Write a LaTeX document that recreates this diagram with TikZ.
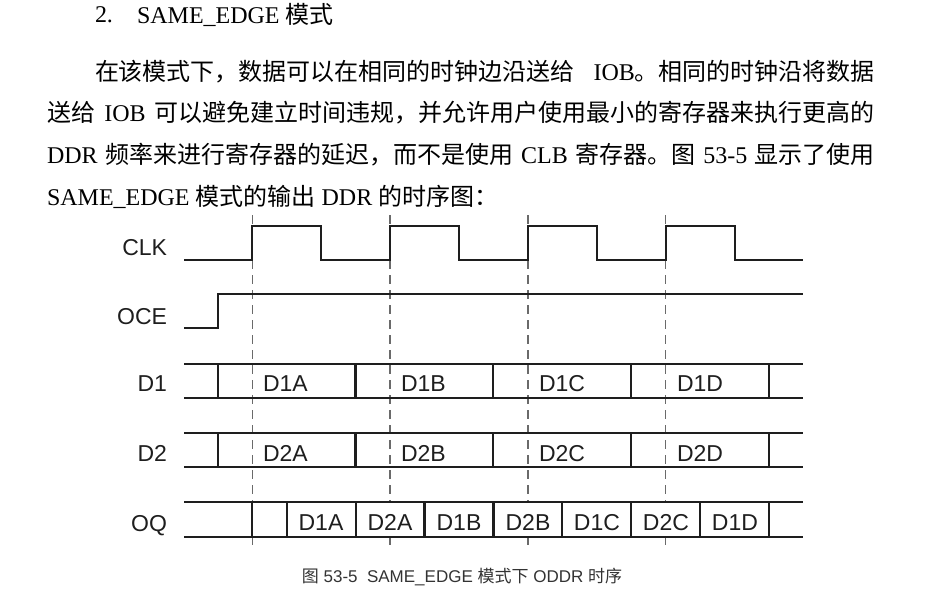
\documentclass[tikz,border=0pt]{standalone}
\usepackage{fontspec}
\setmainfont{Liberation Serif}
\newfontfamily\cjk{Noto Sans CJK SC}
\newfontfamily\arial{Liberation Sans}
\XeTeXlinebreaklocale "zh"
\XeTeXlinebreakskip=0pt plus 1pt
\usetikzlibrary{positioning}
\definecolor{wavecol}{HTML}{1e1e1e}
\definecolor{guidecol}{HTML}{6a6a6a}
\definecolor{captext}{HTML}{333333}

\begin{document}
\begin{tikzpicture}[x=0.5pt, y=-0.5pt, every node/.style={inner sep=0pt, outer sep=0pt},
  para/.style={font=\fontsize{12}{14}\selectfont, anchor=west},
  sig/.style={font=\arial\fontsize{11.5}{13}\selectfont, anchor=base east, text=wavecol},
  cell/.style={font=\arial\fontsize{11.5}{13}\selectfont, text=wavecol},
  waveline/.style={draw=wavecol, line width=1.1pt},
  guideline/.style={draw=guidecol, line width=0.75pt, dash pattern=on 4.5pt off 3pt}]
\useasboundingbox (0,0) rectangle (950,594);

% heading and paragraph
\node[para] (num) at (95,15) {2.};
\node[para] (title) at (137,15) {SAME\_EDGE {\cjk 模式}};
\node[para] (line1) at (95,72) {\makebox[390pt][s]{{\cjk 在该模式下，数据可以在相同的时钟边沿送给} IOB{\cjk 。相同的时钟沿将数据}}};
\node[para] (line2) at (47,113) {\makebox[414pt][s]{{\cjk 送给} IOB {\cjk 可以避免建立时间违规，并允许用户使用最小的寄存器来执行更高的}}};
\node[para] (line3) at (47,155) {\makebox[414pt][s]{DDR {\cjk 频率来进行寄存器的延迟，而不是使用} CLB {\cjk 寄存器。图} 53-5 {\cjk 显示了使用}}};
\node[para] (line4) at (47,197) {SAME\_EDGE {\cjk 模式的输出} DDR {\cjk 的时序图：}};

% signal names
\node[sig] (clk) at (167,255.5) {CLK};
\node[sig] (oce) at (167,324) {OCE};
\node[sig] (d1) at (167,391.5) {D1};
\node[sig] (d2) at (167,461) {D2};
\node[sig] (oq) at (167,531) {OQ};

% clock edges (hidden inside the OQ bus)
\foreach \k in {0,...,3} {
  \draw[guideline] ({252.3+137.8*\k},215) -- ({252.3+137.8*\k},502);
  \draw[guideline] ({252.3+137.8*\k},537) -- ({252.3+137.8*\k},545);
}

% CLK and OCE
\draw[waveline] (184,260) foreach \k in {0,...,3} {
  -- ({252.3+137.8*\k},260) -- ++(0,-34) -- ++(68.9,0) -- ++(0,34) } -- (803,260);
\draw[waveline] (184,328) -- (217.7,328) -- (217.7,294) -- (803,294);

% D1 and D2 buses
\foreach \top in {364,433} {
  \draw[waveline] (184,\top) -- (803,\top);
  \draw[waveline] (184,\top+34) -- (803,\top+34);
  \foreach \k in {0,...,4}
    \draw[waveline] ({217.7+137.8*\k},\top) -- ({217.7+137.8*\k},\top+34);
}
\node[cell, anchor=base west] (d1a) at (263,391.5) {D1A};
\node[cell, anchor=base west] (d1b) at (401,391.5) {D1B};
\node[cell, anchor=base west] (d1c) at (539,391.5) {D1C};
\node[cell, anchor=base west] (d1d) at (677,391.5) {D1D};
\node[cell, anchor=base west] (d2a) at (263,461) {D2A};
\node[cell, anchor=base west] (d2b) at (401,461) {D2B};
\node[cell, anchor=base west] (d2c) at (539,461) {D2C};
\node[cell, anchor=base west] (d2d) at (677,461) {D2D};

% OQ bus
\draw[waveline] (184,502) -- (803,502);
\draw[waveline] (184,537) -- (803,537);
\draw[waveline] (252.3,502) -- (252.3,537);
\foreach \k in {0,...,7}
  \draw[waveline] ({286.7+68.9*\k},502) -- ({286.7+68.9*\k},537);
\node[cell, anchor=base] (oqd1a) at (321,530) {D1A};
\node[cell, anchor=base] (oqd2a) at (390,530) {D2A};
\node[cell, anchor=base] (oqd1b) at (459,530) {D1B};
\node[cell, anchor=base] (oqd2b) at (528,530) {D2B};
\node[cell, anchor=base] (oqd1c) at (597,530) {D1C};
\node[cell, anchor=base] (oqd2c) at (666,530) {D2C};
\node[cell, anchor=base] (oqd1d) at (735,530) {D1D};

% caption
\node[font=\arial\fontsize{8.5}{10}\selectfont, text=captext] (caption) at (462,577)
  {{\cjk 图} 53-5\ \ SAME\_EDGE {\cjk 模式下} ODDR {\cjk 时序}};
\end{tikzpicture}
\end{document}
